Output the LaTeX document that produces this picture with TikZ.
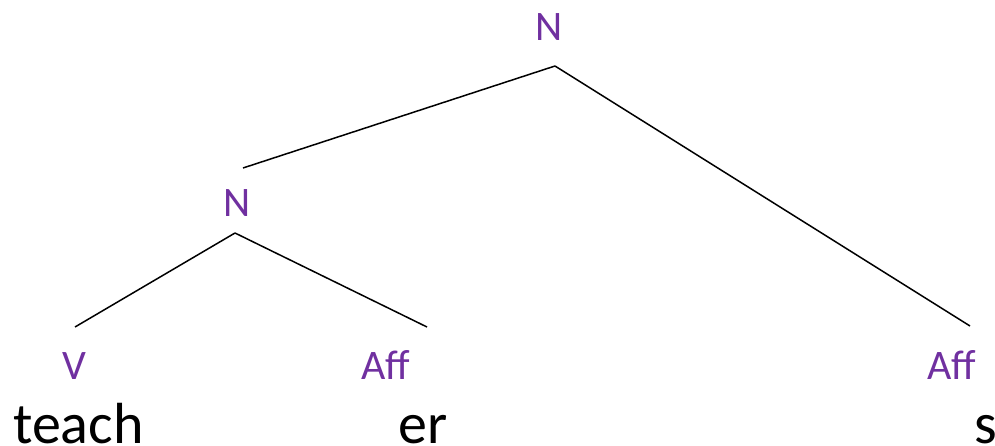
\documentclass[tikz,border=0pt]{standalone}
\usepackage{fontspec}
\setmainfont{Carlito}
\definecolor{cat}{HTML}{7030A0}
\tikzset{
  lab/.style={text=cat, font=\fontsize{42}{50}\selectfont, inner sep=0pt, anchor=base},
  word/.style={text=black, font=\fontsize{58}{68}\selectfont, inner sep=0pt, text depth=0pt, anchor=base},
  branch/.style={draw=black, line width=1.5pt}
}
\begin{document}
\begin{tikzpicture}[x=1pt, y=-1pt]
\useasboundingbox (0,0) rectangle (995,446);
% category labels
\node[lab] (Ntop) at (549,41) {N};
\node[lab] (Nmid) at (237,217) {N};
\node[lab] (V) at (74,379) {V};
\node[lab] (Aff1) at (386,379) {Aff};
\node[lab] (Aff2) at (952,379) {Aff};
% words
\node[word, anchor=base west] (teach) at (13,443) {teach};
\node[word] (er) at (423,443) {er};
\node[word] (s) at (986,443) {s};
% branch end points
\coordinate (Ntop-b) at (555,66);
\coordinate (Nmid-t) at (243,168);
\coordinate (Nmid-b) at (235,233);
\coordinate (V-t) at (75,327);
\coordinate (Aff1-t) at (427,327);
\coordinate (Aff2-t) at (970,326);
\draw[branch] (Ntop-b) -- (Nmid-t);
\draw[branch] (Ntop-b) -- (Aff2-t);
\draw[branch] (Nmid-b) -- (V-t);
\draw[branch] (Nmid-b) -- (Aff1-t);
\end{tikzpicture}
\end{document}
